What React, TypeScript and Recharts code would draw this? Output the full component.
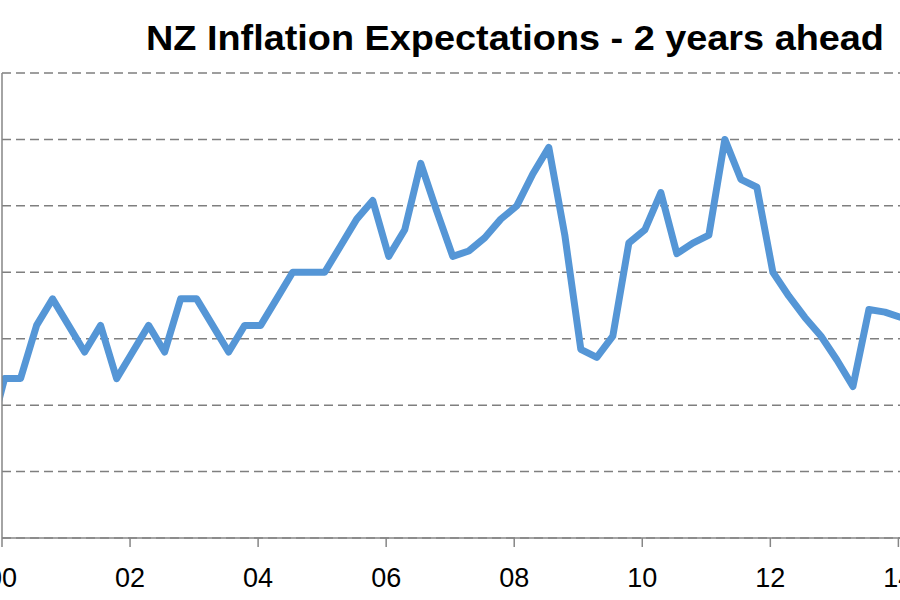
import { CartesianGrid, Line, LineChart, XAxis, YAxis } from 'recharts'

// RBNZ survey, 2-year-ahead CPI expectations (quarterly)
const quarters = [
  '1999 Q4',
  '2000 Q1', '2000 Q2', '2000 Q3', '2000 Q4',
  '2001 Q1', '2001 Q2', '2001 Q3', '2001 Q4',
  '2002 Q1', '2002 Q2', '2002 Q3', '2002 Q4',
  '2003 Q1', '2003 Q2', '2003 Q3', '2003 Q4',
  '2004 Q1', '2004 Q2', '2004 Q3', '2004 Q4',
  '2005 Q1', '2005 Q2', '2005 Q3', '2005 Q4',
  '2006 Q1', '2006 Q2', '2006 Q3', '2006 Q4',
  '2007 Q1', '2007 Q2', '2007 Q3', '2007 Q4',
  '2008 Q1', '2008 Q2', '2008 Q3', '2008 Q4',
  '2009 Q1', '2009 Q2', '2009 Q3', '2009 Q4',
  '2010 Q1', '2010 Q2', '2010 Q3', '2010 Q4',
  '2011 Q1', '2011 Q2', '2011 Q3', '2011 Q4',
  '2012 Q1', '2012 Q2', '2012 Q3', '2012 Q4',
  '2013 Q1', '2013 Q2', '2013 Q3', '2013 Q4',
  '2014 Q1',
]

const expectations = [
  1.87,
  2.1, 2.1, 2.3, 2.4,
  2.3, 2.2, 2.3, 2.1,
  2.2, 2.3, 2.2, 2.4,
  2.4, 2.3, 2.2, 2.3,
  2.3, 2.4, 2.5, 2.5,
  2.5, 2.6, 2.7, 2.77,
  2.56, 2.66, 2.91, 2.73,
  2.56, 2.58, 2.63, 2.7,
  2.75, 2.87, 2.97, 2.64,
  2.21, 2.18, 2.26, 2.61,
  2.66, 2.8, 2.57, 2.61,
  2.64, 3.0, 2.85, 2.82,
  2.5, 2.41, 2.33, 2.26,
  2.17, 2.07, 2.36, 2.35,
  2.33,
]

const yearTicks = [2000, 2002, 2004, 2006, 2008, 2010, 2012, 2014]
const valueTicks = [1.5, 1.75, 2, 2.25, 2.5, 2.75, 3, 3.25]

const title = 'NZ Inflation Expectations - 2 years ahead'

// survey is taken early in each quarter
const toTime = (q: string) => {
  const [year, qq] = q.split(' Q')
  return Number(year) + (Number(qq) - 1) / 4 + 0.04
}

const data = quarters.map((q, i) => ({
  quarter: q,
  t: toTime(q),
  value: expectations[i],
}))

const font = '"Liberation Sans Narrow", "Liberation Sans", Arial, sans-serif'

// value labels sit outside the cropped picture
const NoTick = () => <g />

export default function App() {
  return (
    <div
      style={{
        position: 'absolute',
        left: 0,
        top: 0,
        width: 900,
        height: 600,
        overflow: 'hidden',
        background: '#fff',
      }}
    >
      <svg
        width={900}
        height={70}
        style={{ position: 'absolute', left: 0, top: 0 }}
      >
        <text
          x={146}
          y={50}
          fontFamily={font}
          fontWeight='bold'
          fontSize={35}
          fill='#000'
          textLength={738}
          lengthAdjust='spacingAndGlyphs'
        >
          {title}
        </text>
      </svg>
      <div style={{ position: 'absolute', left: 0, top: 0 }}>
        <LineChart
          width={940}
          height={600}
          data={data}
          margin={{ top: 73, right: 0, bottom: 0, left: 0 }}
        >
          <CartesianGrid
            vertical={false}
            stroke='#7f7f7f'
            strokeWidth={1.5}
            strokeDasharray='9 5'
          />
          <XAxis
            type='number'
            dataKey='t'
            domain={[2000, 2014.65]}
            allowDataOverflow
            ticks={yearTicks}
            interval={0}
            tickFormatter={(v) => String(v).slice(2)}
            height={62}
            tickSize={9}
            tickMargin={21}
            axisLine={{ stroke: '#868686', strokeWidth: 1.5 }}
            tickLine={{ stroke: '#868686', strokeWidth: 1.5 }}
            tick={{ fill: '#000', fontSize: 27, fontFamily: font }}
          />
          <YAxis
            type='number'
            domain={[1.5, 3.25]}
            ticks={valueTicks}
            interval={0}
            width={2}
            tick={NoTick}
            tickLine={false}
            axisLine={{ stroke: '#868686', strokeWidth: 1.5 }}
          />
          <Line
            type='linear'
            dataKey='value'
            stroke='#5596d6'
            strokeWidth={7}
            strokeLinejoin='round'
            dot={false}
            isAnimationActive={false}
          />
        </LineChart>
      </div>
    </div>
  )
}
